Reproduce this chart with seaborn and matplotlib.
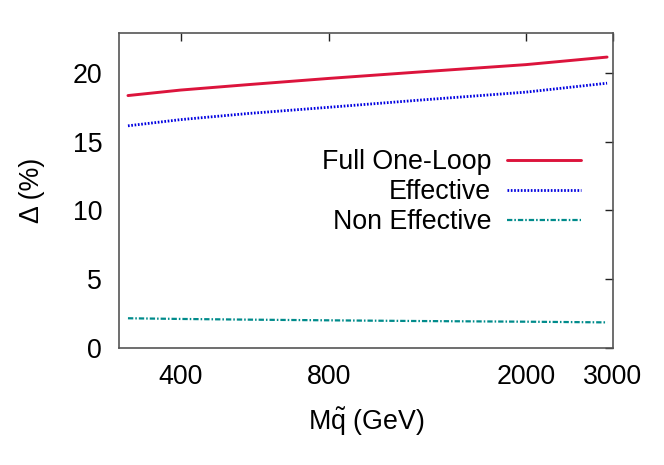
import numpy as np
import pandas as pd
import seaborn as sns
import matplotlib
matplotlib.use('Agg')
import matplotlib.pyplot as plt
from matplotlib.ticker import FixedLocator, NullLocator, FixedFormatter

# values
msq = [313, 400, 550, 800, 1200, 2000, 2920]
full_one_loop = [18.35, 18.75, 19.15, 19.6, 20.05, 20.6, 21.15]
effective = [16.15, 16.6, 17.05, 17.5, 18.0, 18.6, 19.25]
non_effective = [2.15, 2.1, 2.05, 2.0, 1.95, 1.9, 1.85]

x_ticks = [400, 800, 2000, 3000]
y_ticks = [0, 5, 10, 15, 20]

sns.set_theme(style='white')
plt.rcParams['font.family'] = ['Liberation Sans', 'DejaVu Sans']
plt.rcParams['text.color'] = 'black'
plt.rcParams['axes.labelcolor'] = 'black'
plt.rcParams['mathtext.fontset'] = 'custom'
plt.rcParams['mathtext.rm'] = 'Liberation Sans'
plt.rcParams['mathtext.it'] = 'Liberation Sans'

fs = 19.3

fig = plt.figure(figsize=(6.64, 4.65), dpi=100)
ax = fig.add_axes([0.179, 0.252, 0.744, 0.677])

df = pd.DataFrame({'x': msq, 'full': full_one_loop, 'eff': effective, 'non': non_effective})

sns.lineplot(data=df, x='x', y='full', ax=ax, color='#dc143c', lw=2.1,
             label='Full One-Loop')
sns.lineplot(data=df, x='x', y='eff', ax=ax, color='#0000e0', lw=2.0,
             linestyle=(0, (0.6, 0.6)), label='Effective')
sns.lineplot(data=df, x='x', y='non', ax=ax, color='#008b8b', lw=1.6,
             linestyle=(0, (2.4, 0.9, 0.7, 0.9)), label='Non Effective')

ax.set_xscale('log')
ax.set_xlim(300, 3000)
ax.set_ylim(0, 22.9)
ax.xaxis.set_major_locator(FixedLocator(x_ticks))
ax.xaxis.set_major_formatter(FixedFormatter([str(t) for t in x_ticks]))
ax.xaxis.set_minor_locator(NullLocator())
ax.set_yticks(y_ticks)

ax.tick_params(axis='both', which='major', direction='in', length=6, width=1,
               labelsize=fs, pad=12, top=True, right=True, colors='#222222',
               labelcolor='black')
for s in ax.spines.values():
    s.set_color('#555555')
    s.set_linewidth(1.2)

ax.set_xlabel(r'M$\tilde{\mathrm{q}}$ (GeV)', fontsize=fs, labelpad=11)
ax.set_ylabel('\u0394 (%)', fontsize=fs, labelpad=20)

ax.legend(loc='upper right', bbox_to_anchor=(581 / 664, 1 - 149 / 465),
          bbox_transform=fig.transFigure, frameon=False, markerfirst=False,
          fontsize=fs, handlelength=2.75, handletextpad=0.6, labelspacing=0.15,
          borderpad=0, borderaxespad=0)

fig.savefig('out.png', dpi=100)
